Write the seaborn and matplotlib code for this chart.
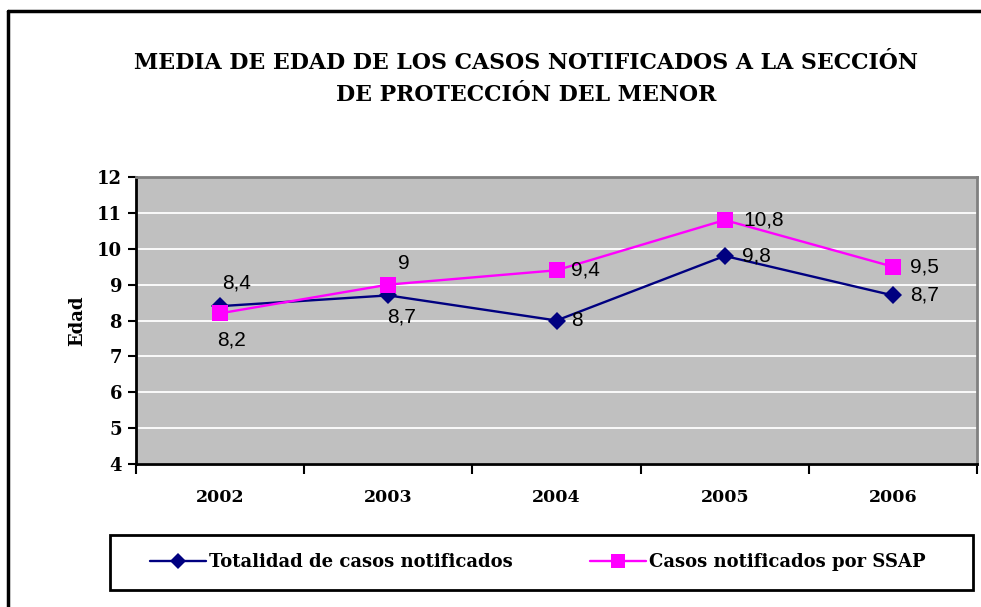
import pandas as pd
import numpy as np
import seaborn as sns
import matplotlib.pyplot as plt
from matplotlib.lines import Line2D
from matplotlib.patches import Rectangle

# datos del grafico
years = ['2002', '2003', '2004', '2005', '2006']
totalidad = [8.4, 8.7, 8.0, 9.8, 8.7]
ssap = [8.2, 9.0, 9.4, 10.8, 9.5]
series_names = ['Totalidad de casos notificados', 'Casos notificados por SSAP']
y_ticks = [4, 5, 6, 7, 8, 9, 10, 11, 12]

df = pd.DataFrame({
    'year': years * 2,
    'edad': totalidad + ssap,
    'serie': [series_names[0]] * len(years) + [series_names[1]] * len(years),
})

sns.set_style('white')
plt.rcParams['font.family'] = ['DejaVu Serif']
plt.rcParams['text.color'] = 'black'
plt.rcParams['xtick.color'] = 'black'
plt.rcParams['ytick.color'] = 'black'
plt.rcParams['axes.labelcolor'] = 'black'

fig = plt.figure(figsize=(9.81, 6.07), dpi=100)
ax = fig.add_axes([136 / 981, 1 - 464 / 607, 841 / 981, 287 / 607])
ax.set_facecolor('#C0C0C0')

colors = {series_names[0]: '#000080', series_names[1]: '#FF00FF'}
markers = {series_names[0]: 'D', series_names[1]: 's'}
sns.lineplot(data=df, x='year', y='edad', hue='serie', style='serie',
             palette=colors, markers=markers, dashes=False, sort=False,
             linewidth=1.7, markersize=10, markeredgewidth=0, ax=ax, zorder=3)

# tamanos distintos de marcador
ax.lines[0].set_markersize(9.5)
ax.lines[1].set_markersize(11.5)

ax.set_xlim(-0.5, len(years) - 0.5)
ax.set_ylim(4, 12)
ax.set_yticks(y_ticks)
ax.yaxis.grid(True, color='white', linewidth=1.3)
ax.set_axisbelow(True)

for s in ['left', 'bottom']:
    ax.spines[s].set_color('black')
    ax.spines[s].set_linewidth(2)
for s in ['top', 'right']:
    ax.spines[s].set_color('#808080')
    ax.spines[s].set_linewidth(2)

ax.tick_params(axis='y', direction='out', length=6, width=1.5, left=True,
               labelsize=13, pad=4)
ax.set_xticks(np.arange(-0.5, len(years)), minor=True)
ax.tick_params(axis='x', which='minor', direction='out', length=7, width=1.5, bottom=True)
ax.tick_params(axis='x', which='major', length=0, labelsize=12.5, pad=18)
for lab in ax.get_xticklabels() + ax.get_yticklabels():
    lab.set_fontweight('bold')

ax.set_xlabel('')
ax.set_ylabel('Edad', fontsize=13, fontweight='bold', labelpad=8)

# etiquetas de datos (desplazamientos en pixeles)
offs_t = [(2, 23), (-1, -22), (15, 0), (17, 0), (17, 0)]
offs_s = [(-3, -27), (10, 21), (15, 0), (19, 0), (17, 0)]
for vals, offs in [(totalidad, offs_t), (ssap, offs_s)]:
    for i, (v, o) in enumerate(zip(vals, offs)):
        txt = ('%g' % v).replace('.', ',')
        ax.annotate(txt, (i, v), xytext=o, textcoords='offset pixels',
                    ha='left', va='center', fontsize=15, family='Liberation Sans',
                    color='black', zorder=5)

ax.get_legend().remove()
handles = [Line2D([], [], color='#000080', marker='D', markersize=8.5, lw=1.7, mew=0),
           Line2D([], [], color='#FF00FF', marker='s', markersize=10.5, lw=1.7, mew=0)]
leg = fig.legend(handles, series_names, loc='center', ncol=2,
                 bbox_to_anchor=(538 / 981, 1 - 562 / 607),
                 frameon=False, borderpad=0.85,
                 handlelength=3.1, handletextpad=0.15, columnspacing=4.3,
                 borderaxespad=0,
                 prop={'family': 'DejaVu Serif', 'weight': 'bold', 'size': 13})
# caja de la leyenda
fig.add_artist(Rectangle((110 / 981, 1 - 590 / 607), 863 / 981, 55 / 607,
                         transform=fig.transFigure, fill=False,
                         edgecolor='black', linewidth=2))

fig.suptitle('MEDIA DE EDAD DE LOS CASOS NOTIFICADOS A LA SECCIÓN\nDE PROTECCIÓN DEL MENOR',
             x=526 / 981, y=1 - 52 / 607, va='top', fontsize=15.8, fontweight='bold',
             linespacing=1.58)

# marco exterior
fig.add_artist(Line2D([8 / 981, 8 / 981], [0, 1 - 11 / 607], color='black', lw=2.5,
                      transform=fig.transFigure))
fig.add_artist(Line2D([8 / 981, 1], [1 - 11 / 607, 1 - 11 / 607], color='black', lw=2.5,
                      transform=fig.transFigure))

fig.savefig('out.png', dpi=100)
